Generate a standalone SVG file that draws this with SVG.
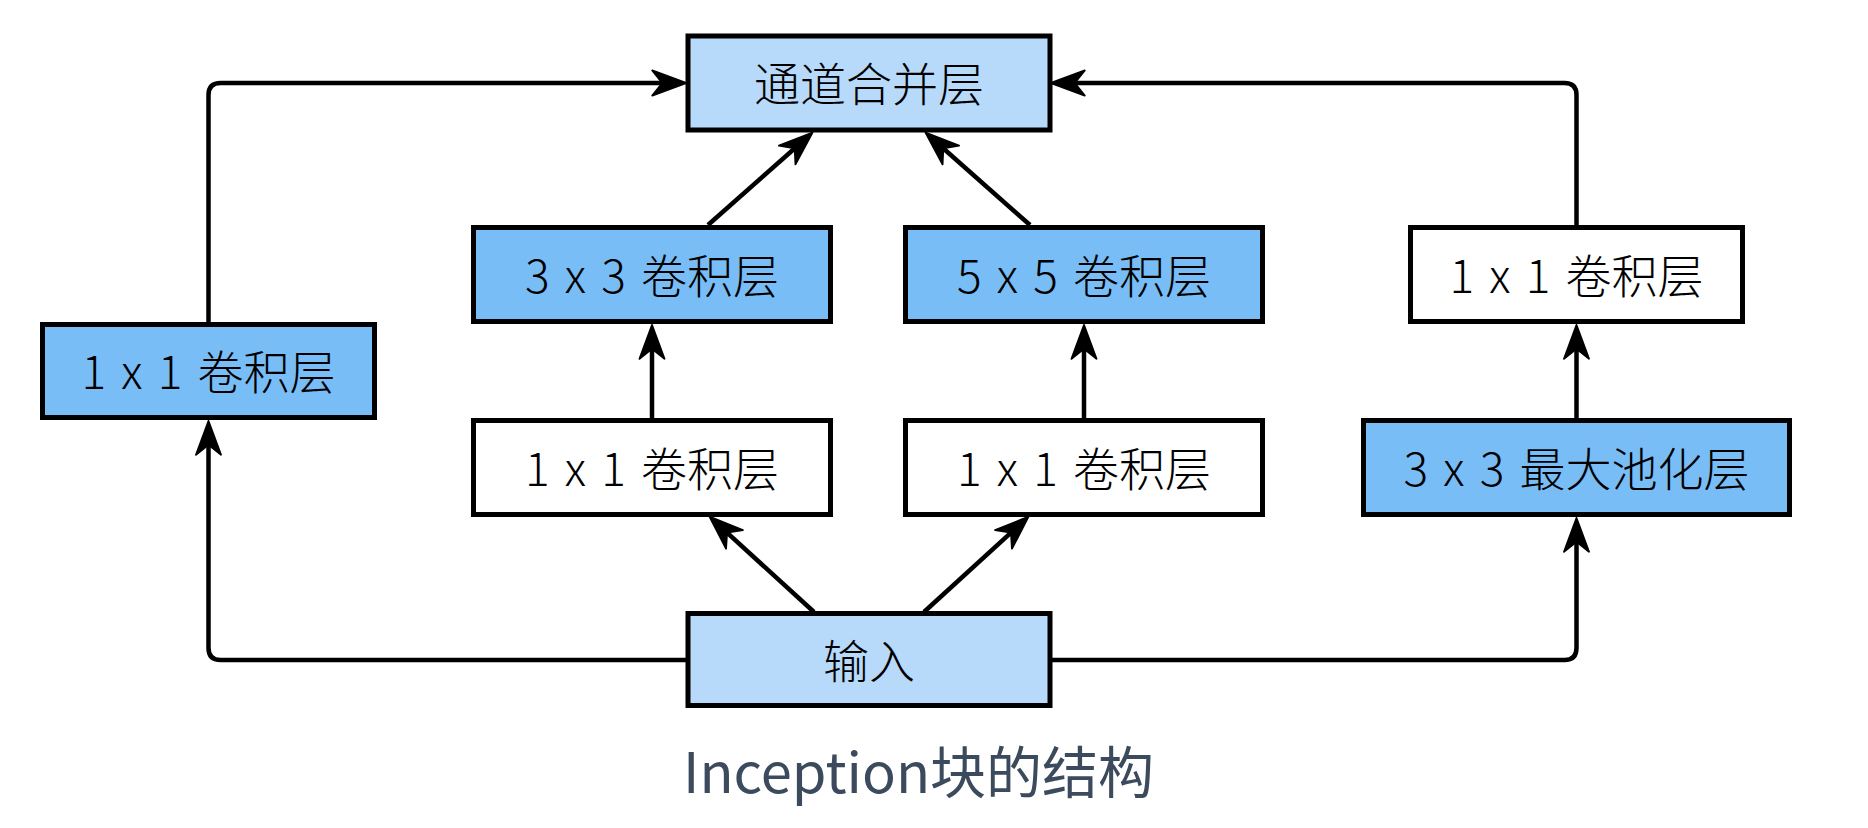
<svg xmlns="http://www.w3.org/2000/svg" width="1868" height="828" viewBox="0 0 1868 828">
<style>
.box{stroke:#000;stroke-width:5}
.light{fill:#b7d9fa}
.dark{fill:#79bdf7}
.white{fill:#fff}
.lbl{font-family:"Noto Sans CJK SC","Noto Sans",sans-serif;font-size:46px;font-weight:300;fill:#000;text-anchor:middle;word-spacing:5px}
.edge{fill:none;stroke:#000;stroke-width:4.5}
.title{font-family:"Noto Sans CJK SC","Noto Sans",sans-serif;font-size:56px;fill:#3b4a5c}
</style>
<defs>
<marker id="ah" markerUnits="userSpaceOnUse" markerWidth="40" markerHeight="30" viewBox="-22 -12 32 24" refX="0" refY="0" orient="auto" overflow="visible">
<path d="M8,0 L-19,-10 L-11,0 L-19,10 Z" fill="#000" stroke="#000" stroke-width="1.5" stroke-linejoin="round"/>
</marker>
</defs>
<rect width="1868" height="828" fill="#fff"/>
<g id="connectors">
<path class="edge" d="M208.5,322 V95 Q208.5,83 220.5,83 H676" marker-end="url(#ah)"/>
<path class="edge" d="M1576.5,225 V95 Q1576.5,83 1564.5,83 H1061" marker-end="url(#ah)"/>
<path class="edge" d="M687,660 H220.5 Q208.5,660 208.5,648 V431" marker-end="url(#ah)"/>
<path class="edge" d="M1051,660 H1564.5 Q1576.5,660 1576.5,648 V528" marker-end="url(#ah)"/>
<path class="edge" d="M652,418 V335" marker-end="url(#ah)"/>
<path class="edge" d="M1084,418 V335" marker-end="url(#ah)"/>
<path class="edge" d="M1576.5,418 V335" marker-end="url(#ah)"/>
<path class="edge" d="M708,225 L805,139.3" marker-end="url(#ah)"/>
<path class="edge" d="M1030,225 L933,139.3" marker-end="url(#ah)"/>
<path class="edge" d="M814,612 L716.9,523.4" marker-end="url(#ah)"/>
<path class="edge" d="M924,612 L1021.1,523.4" marker-end="url(#ah)"/>
</g>
<g id="merge"><rect class="box light" x="688" y="36" width="362" height="94"/><text class="lbl" x="869" y="101">通道合并层</text></g>
<g id="input"><rect class="box light" x="688" y="613.5" width="362" height="92"/><text class="lbl" x="869" y="678">输入</text></g>
<g id="conv3"><rect class="box dark" x="473.5" y="227.5" width="357" height="94"/><text class="lbl" x="652" y="293">3 x 3 卷积层</text></g>
<g id="conv5"><rect class="box dark" x="905.5" y="227.5" width="357" height="94"/><text class="lbl" x="1084" y="293">5 x 5 卷积层</text></g>
<g id="conv1a"><rect class="box white" x="473.5" y="420.5" width="357" height="94"/><text class="lbl" x="652" y="486">1 x 1 卷积层</text></g>
<g id="conv1b"><rect class="box white" x="905.5" y="420.5" width="357" height="94"/><text class="lbl" x="1084" y="486">1 x 1 卷积层</text></g>
<g id="conv1left"><rect class="box dark" x="42.5" y="324.5" width="332" height="93"/><text class="lbl" x="208.5" y="389">1 x 1 卷积层</text></g>
<g id="conv1right"><rect class="box white" x="1410.5" y="227.5" width="332" height="94"/><text class="lbl" x="1576.5" y="293">1 x 1 卷积层</text></g>
<g id="pool"><rect class="box dark" x="1363.5" y="420.5" width="426" height="94"/><text class="lbl" x="1576.5" y="486">3 x 3 最大池化层</text></g>
<text class="title" x="683" y="793">Inception块的结构</text>
</svg>
